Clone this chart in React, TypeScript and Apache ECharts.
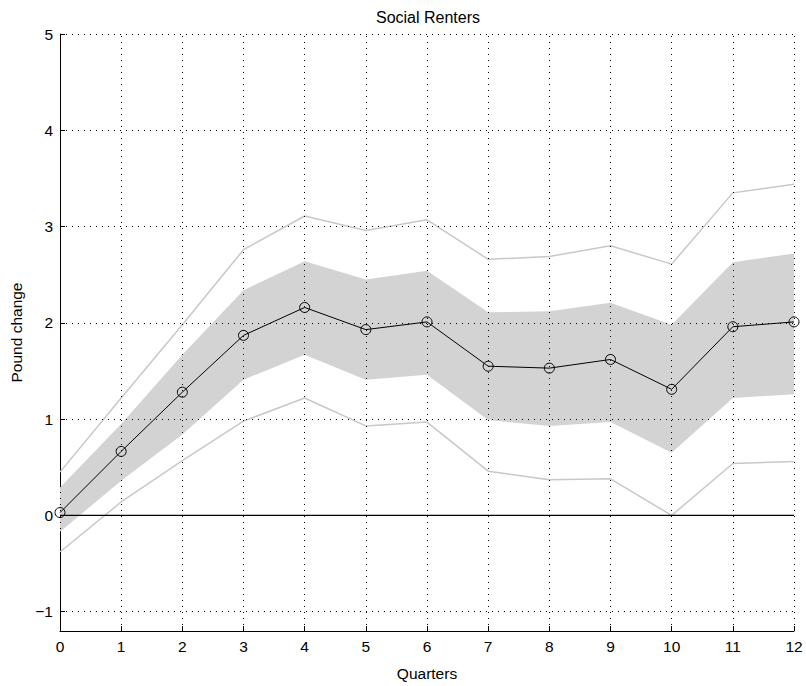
import React, { useEffect, useRef } from "react";
import * as echarts from "echarts";

const quarters = [0, 1, 2, 3, 4, 5, 6, 7, 8, 9, 10, 11, 12];
const center = [0.03, 0.665, 1.28, 1.87, 2.16, 1.93, 2.01, 1.55, 1.53, 1.62, 1.31, 1.96, 2.01];
const bandUpper = [0.29, 0.95, 1.67, 2.34, 2.64, 2.45, 2.54, 2.11, 2.12, 2.21, 1.98, 2.63, 2.72];
const bandLower = [-0.17, 0.36, 0.84, 1.41, 1.67, 1.41, 1.46, 0.99, 0.93, 0.97, 0.65, 1.22, 1.26];
const outerUpper = [0.45, 1.22, 1.98, 2.76, 3.11, 2.96, 3.07, 2.66, 2.69, 2.8, 2.61, 3.35, 3.44];
const outerLower = [-0.38, 0.14, 0.57, 0.98, 1.22, 0.93, 0.97, 0.46, 0.37, 0.38, 0.0, 0.54, 0.56];
const yTicks = [-1, 0, 1, 2, 3, 4, 5];
const xTicks = [0, 1, 2, 3, 4, 5, 6, 7, 8, 9, 10, 11, 12];

const FONT = "'Liberation Sans', Arial, Helvetica, sans-serif";
const FS = 15.5;

export default function App() {
  const ref = useRef<HTMLDivElement>(null);
  useEffect(() => {
    if (!ref.current) return;
    const chart = echarts.init(ref.current, null, { renderer: "svg" });
    const pair = (arr: number[]) => quarters.map((q, i) => [q, arr[i]]);
    const gridStyle = { color: "#000", width: 1, type: [1, 5] as any };
    chart.setOption({
      animation: false,
      backgroundColor: "#fff",
      textStyle: { fontFamily: FONT },
      title: {
        text: "Social Renters",
        left: 423,
        top: 4,
        textAlign: "center",
        textStyle: { fontFamily: FONT, fontSize: 16, fontWeight: "normal", color: "#000" },
      },
      grid: { left: 60, right: 12, top: 34, bottom: 53, containLabel: false },
      xAxis: {
        type: "value",
        min: 0,
        max: 12,
        interval: 1,
        name: "Quarters",
        nameLocation: "middle",
        nameGap: 34,
        nameTextStyle: { fontFamily: FONT, fontSize: FS, color: "#000" },
        axisLine: { show: true, onZero: false, lineStyle: { color: "#000", width: 1 } },
        axisTick: { show: true, inside: true, length: 5, lineStyle: { color: "#000" } },
        axisLabel: { fontFamily: FONT, fontSize: FS, color: "#000", margin: 7, showMaxLabel: true },
        splitLine: { show: false },
      },
      yAxis: {
        type: "value",
        min: -1.2,
        max: 5,
        name: "Pound change",
        nameLocation: "middle",
        nameGap: 34,
        nameTextStyle: { fontFamily: FONT, fontSize: FS, color: "#000" },
        axisLine: { show: true, onZero: false, lineStyle: { color: "#000", width: 1 } },
        axisTick: { show: true, inside: true, length: 5, lineStyle: { color: "#000" }, customValues: yTicks },
        axisLabel: {
          fontFamily: FONT,
          fontSize: FS,
          color: "#000",
          margin: 7,
          customValues: yTicks,
          formatter: (v: number) => (v < 0 ? "\u2212" + Math.abs(v) : String(v)),
        },
        splitLine: { show: false },
      },
      series: [
        {
          type: "custom",
          data: quarters.map((q, i) => [q, bandLower[i], bandUpper[i]]),
          encode: { x: 0, y: [1, 2] },
          silent: true,
          z: 1,
          renderItem: (params: any, api: any) => {
            if (params.dataIndex !== 0) return null;
            const up = quarters.map((q, i) => api.coord([q, bandUpper[i]]));
            const lo = quarters.map((q, i) => api.coord([q, bandLower[i]])).reverse();
            return {
              type: "polygon",
              shape: { points: [...up, ...lo] },
              style: { fill: "#d3d3d3", stroke: "none" },
            };
          },
        },
        {
          type: "line",
          data: [],
          silent: true,
          z: 3,
          markLine: {
            silent: true,
            symbol: "none",
            label: { show: false },
            lineStyle: gridStyle,
            data: [
              ...xTicks.map((x) => ({ xAxis: x })),
              ...yTicks.map((y) => ({ yAxis: y })),
            ],
          },
        },
        {
          type: "line",
          data: pair(outerUpper),
          symbol: "none",
          lineStyle: { color: "#c8c8c8", width: 1.5 },
          silent: true,
          z: 4,
        },
        {
          type: "line",
          data: pair(outerLower),
          symbol: "none",
          lineStyle: { color: "#c8c8c8", width: 1.5 },
          silent: true,
          z: 4,
        },
        {
          type: "line",
          data: [
            [0, 0],
            [12, 0],
          ],
          symbol: "none",
          lineStyle: { color: "#000", width: 1.2 },
          silent: true,
          z: 5,
        },
        {
          type: "line",
          data: pair(center),
          symbol: "circle",
          symbolSize: 10,
          itemStyle: { color: "rgba(0,0,0,0)", borderColor: "#000", borderWidth: 1 },
          lineStyle: { color: "#000", width: 1 },
          silent: true,
          z: 6,
        },
      ],
    });
    return () => chart.dispose();
  }, []);
  return (
    <div
      ref={ref}
      style={{ position: "absolute", left: 0, top: 0, width: 806, height: 686 }}
    />
  );
}
